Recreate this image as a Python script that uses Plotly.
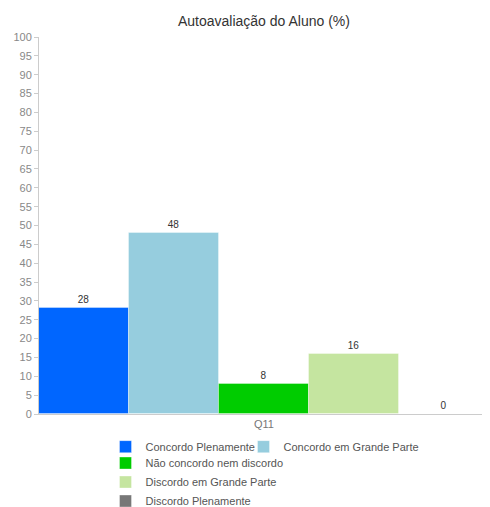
import plotly.graph_objects as go

categories = ["Q11"]
series_names = ["Concordo Plenamente", "Concordo em Grande Parte", "Não concordo nem discordo",
                "Discordo em Grande Parte", "Discordo Plenamente"]
series_values = [[28], [48], [8], [16], [0]]
series_colors = ["#0066FF", "#96CDDE", "#00CC00", "#C5E5A0", "#777777"]
legend_groups = ["legend", "legend3", "legend2", "legend2", "legend2"]
y_ticks = list(range(0, 101, 5))

fig = go.Figure()
for name, vals, col, lg in zip(series_names, series_values, series_colors, legend_groups):
    fig.add_trace(go.Bar(
        x=categories, y=vals, name=name,
        marker=dict(color=col, line=dict(color="rgba(255,255,255,0.35)", width=1)),
        text=[str(v) for v in vals], textposition="outside",
        textfont=dict(size=10, color="#333333"),
        cliponaxis=False, legend=lg,
    ))

legend_common = dict(font=dict(size=11, color="#555555"), traceorder="normal",
                     itemwidth=30, bgcolor="rgba(0,0,0,0)", xref="container", yref="container",
                     xanchor="left", yanchor="top")

fig.update_layout(
    width=482, height=499,
    font=dict(family="Liberation Sans, Arial, sans-serif", color="#555555"),
    title=dict(text="Autoavaliação do Aluno (%)", x=0.531, xref="container", xanchor="center",
               y=0.974, yref="container", yanchor="middle",
               font=dict(size=14, color="#333333")),
    margin=dict(l=31, r=1, t=29, b=93, autoexpand=False),
    plot_bgcolor="white", paper_bgcolor="white",
    barmode="group", bargap=0, bargroupgap=0,
    showlegend=True,
    legend=dict(orientation="h", x=0.2023, y=0.150, **legend_common),
    legend3=dict(orientation="h", x=0.4886, y=0.150, **legend_common),
    legend2=dict(orientation="v", x=0.2023, y=0.1172, tracegroupgap=0, **legend_common),
)
fig.update_xaxes(type="category", range=[-0.5, 0.5], showline=True, linecolor="#cccccc",
                 ticks="", tickfont=dict(size=11, color="#777777"), showgrid=False, automargin=False)
fig.update_yaxes(range=[0, 100], tickvals=y_ticks, showline=True, linecolor="#cccccc",
                 ticks="outside", ticklen=4, tickcolor="#cccccc",
                 tickfont=dict(size=11, color="#888888"), showgrid=False, zeroline=False,
                 automargin=False)

fig.write_html("out.html")
